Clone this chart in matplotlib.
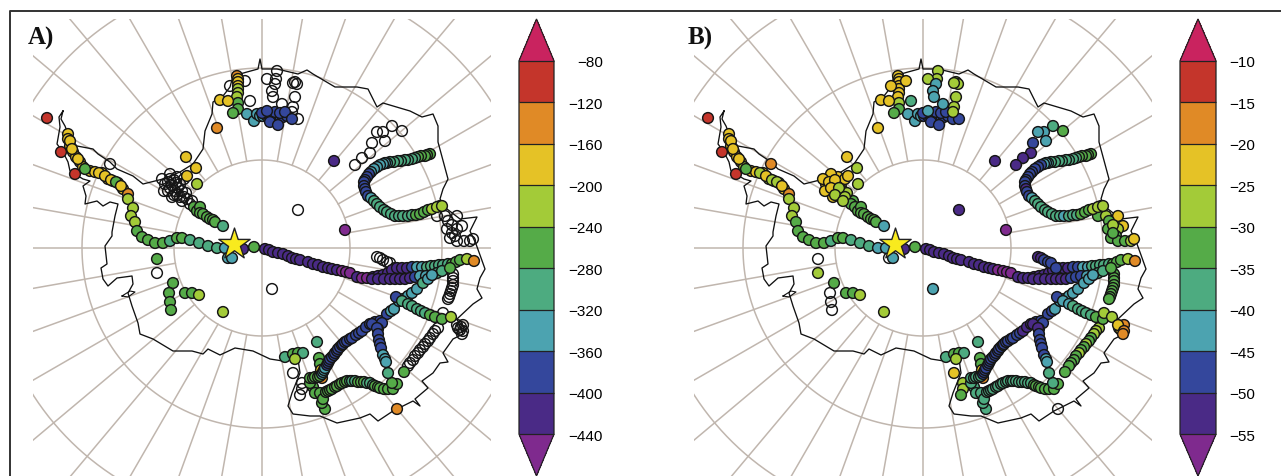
import numpy as np
import matplotlib
matplotlib.use('Agg')
import matplotlib.pyplot as plt
from matplotlib.colors import ListedColormap, BoundaryNorm
from matplotlib.cm import ScalarMappable
from matplotlib.lines import Line2D

W, H = 1281, 477
nan = float('nan')

# ----- data: station position (map units), dD (panel A), d18O (panel B); nan = open circle -----
peninsula = [
    (68,135,-165,-22), (68,140,-170,-21), (70,147,-175,-22), (73,153,-180,-24), (76,158,-175,-23),
    (80,163,-190,-25), (83,168,-195,-26), (90,172,-185,-24), (95,173,-180,-23), (102,174,-190,-25),
    (108,180,-195,-27), (113,182,-205,-28), (118,184,-215,-28), (123,190,-170,-22), (128,195,-150,-19),
    (128,200,-210,-27), (133,209,-225,-28), (131,217,-230,-28), (135,223,-235,-31), (137,232,-250,-32),
    (142,238,-260,-33), (148,241,-262,-34), (155,244,-265,-33), (163,244,-270,-32), (170,242,-305,-38),
    (177,239,-265,-34), (182,239,-262,-35), (190,241,-300,-37), (199,244,-305,-38), (208,247,-310,-40),
    (217,249,-320,-41), (225,249,-330,-42), (228,259,-335,nan), (232,259,-345,-43), (243,250,-405,-52),
    (254,248,-265,-33), (70,142,-170,-23), (72,150,-178,-23), (78,160,-185,-24), (85,170,-260,-31),
    (99,174,-200,-26), (105,177,-190,-25), (111,181,-200,-27), (116,183,-260,-30), (121,187,-190,-24),
]
plateau = [
    (265,250,-410,-52), (269,251,-412,-52), (273,253,-415,-53), (278,254,-420,-53), (283,255,-425,-53),
    (288,257,-430,-53), (292,259,-435,-54), (296,260,-425,-54), (300,261,-420,-53), (308,263,-418,-53),
    (313,265,-420,-53), (318,266,-422,-54), (323,268,-425,-54), (328,269,-428,-54), (332,270,-430,-54),
    (337,271,-440,-56), (342,272,-445,-57), (346,273,-445,-56), (350,274,-445,-56), (357,278,-440,-54),
    (362,279,-442,-54), (367,279,-445,-54), (373,278,-430,-53), (378,277,-420,-52), (383,276,-428,-52),
    (388,274,-435,-53), (392,271,-420,-52), (397,269,-410,-52), (402,269,-408,-52), (407,269,-405,-51),
    (412,268,-395,-50), (417,268,-345,-46), (422,268,-330,-43), (427,268,-320,-41), (431,267,-318,-40),
    (435,267,-315,-40), (439,266,-312,-39), (443,266,-310,-39), (448,265,-290,-36), (452,265,-280,-34),
    (456,263,-265,-32), (460,261,-250,-31), (467,260,-230,-28), (474,262,-150,-18),
    (372,280,-430,-53), (378,280,-425,-53), (384,280,-420,-53), (390,280,-415,-52), (395,280,-415,-52),
    (400,280,-412,-52), (405,280,-410,-51), (410,279,-405,-50), (415,278,-390,-50), (420,277,-360,-46),
    (426,277,-345,-44), (432,276,-335,-43), (437,274,-315,-40), (442,272,-300,-37), (450,269,-275,-33),
    (377,258,nan,-51), (380,259,nan,-51), (383,261,nan,-50), (387,263,nan,-50), (390,264,nan,-50), (395,269,nan,-49),
]
right_stack = [
    (440,207,-240,-27), (437,217,nan,-31), (445,217,nan,-29), (457,217,nan,-23), (448,222,nan,-33),
    (462,227,nan,-24), (447,230,nan,-31), (457,230,nan,-27), (455,237,nan,-32), (450,239,nan,-33),
    (457,242,nan,-32), (464,242,nan,-31), (470,242,nan,-26), (473,240,nan,-24), (452,226,nan,-30), (452,234,nan,-31),
    (453,275,nan,-33), (453,279,nan,-32), (453,282,nan,-32), (453,286,nan,-32), (452,289,nan,-32),
    (451,292,nan,-33), (450,295,nan,-33), (449,298,nan,-33), (448,300,nan,-34),
]
c_track = [
    (430,155,-265,-34), (427,156,-268,-34), (425,157,-270,-33), (421,157,-275,-34), (418,158,-280,-35),
    (415,159,-283,-36), (412,160,-285,-36), (408,161,-288,-36), (405,161,-290,-37), (401,162,-295,-38),
    (398,162,-300,-38), (394,163,-305,-39), (390,163,-310,-39), (387,164,-325,-42), (385,164,-330,-44),
    (383,165,-340,-43), (380,166,-345,-46), (377,168,-350,-47), (374,170,-355,-49), (371,173,-360,-49),
    (369,175,-365,-50), (367,178,-370,-50), (365,181,-378,-50), (364,183,-385,-50), (364,187,-388,-50),
    (365,190,-390,-51), (366,193,-388,-50), (368,197,-380,-47), (371,199,-350,-44), (374,202,-320,-40),
    (377,205,-300,-38), (380,208,-290,-36), (384,211,-290,-38), (387,213,-285,-37), (391,215,-288,-38),
    (395,217,-290,-39), (399,217,-292,-40), (403,217,-295,-42), (408,217,-290,-38), (412,216,-285,-37),
    (416,216,-280,-36), (420,215,-275,-35), (424,213,-262,-33), (428,211,-250,-31), (432,210,-238,-29),
    (437,208,-225,-28), (442,207,-215,-27),
]
open_arc = [
    (402,132,nan,-31), (392,127,nan,-38), (383,133,nan,-42), (377,133,nan,-43), (385,142,nan,-42),
    (372,144,nan,-48), (370,154,nan,-51), (362,159,nan,-52), (355,166,nan,-53),
]
inland = [
    (334,162,-420,-52), (345,231,-445,-56), (298,211,nan,-52), (272,290,nan,-43),
]
filchner = [
    (237,77,-145,-21), (238,80,-185,-22), (238,83,-190,-23), (238,87,-200,-24), (238,90,-205,-25),
    (238,94,-210,-25), (237,98,-215,-24), (238,104,-250,-29), (238,110,-270,-31), (233,114,-275,-32),
    (220,101,-195,-23), (228,102,-200,-24), (245,82,nan,-24), (230,87,nan,-24), (250,102,nan,-37),
    (217,129,-145,-22), (247,115,-330,-43), (254,122,-340,-42), (257,115,-335,-42), (260,117,-345,-42),
    (263,117,-360,-47), (265,115,-375,-48), (267,117,-385,-49), (270,118,-390,-49), (273,117,-390,-50),
    (276,118,-390,-51), (280,117,-395,-50), (283,118,-395,-49), (287,117,-390,-49), (262,114,-385,-49),
    (270,114,-390,-49), (275,113,-390,-50), (280,114,-390,-50), (285,113,-385,-49), (270,123,-385,-49),
    (278,126,-385,-48), (267,112,-385,-45), (292,120,-370,-48), (298,120,nan,-48), (282,105,nan,-42),
    (277,72,nan,-26), (276,80,nan,-29), (267,80,nan,-27), (275,85,nan,-43), (272,92,nan,-42),
    (273,98,nan,-41), (295,83,nan,-27), (297,85,nan,-30), (293,84,nan,-30), (295,98,nan,-28),
    (293,108,nan,-28), (292,113,nan,-30),
]
ronne_mesh = [
    (170,180,nan,-24), (177,178,nan,-23), (165,185,nan,-25), (172,186,nan,-24), (180,185,nan,-25),
    (168,192,nan,-25), (175,192,nan,-27), (182,192,nan,-26), (172,198,nan,-24), (180,198,nan,-28),
    (187,200,nan,-30), (177,196,nan,-26), (192,202,nan,-31), (170,175,nan,-23), (162,180,nan,-24),
    (164,192,nan,-23), (186,194,nan,-28), (176,184,nan,-26), (184,180,nan,-25), (168,183,nan,-24),
    (174,181,nan,-24), (170,189,nan,-25), (178,189,nan,-27), (174,196,nan,-26), (184,198,nan,-29),
    (190,205,nan,-31), (182,202,nan,-30),
]
ronne_track = [
    (194,208,-265,-31), (197,212,-265,-32), (200,208,-270,-33), (200,214,-268,-33), (203,215,-268,-31),
    (207,218,-275,-33), (210,220,-270,-32), (213,221,-272,-33), (215,223,-272,-33), (223,227,-310,-43),
    (186,158,-185,-24), (196,169,-190,-28), (187,177,-195,-24), (197,185,-215,-29),
]
coast_stations = [
    (47,119,-110,-13), (61,153,-105,-12), (75,175,-108,-13), (110,165,nan,-18),
]
west_group = [
    (157,260,-265,nan), (157,274,nan,-27), (173,284,-265,-32), (169,294,-262,nan), (170,303,-268,nan),
    (171,311,-265,nan), (185,294,-270,-32), (192,294,-275,-33), (199,296,-220,-28), (223,313,-225,-27),
]
ross_group = [
    (317,343,-290,-38), (285,358,-305,-38), (293,355,-270,-33), (298,354,-270,-32), (303,354,-310,-39),
    (295,360,-215,-26), (319,359,-265,-33), (320,365,-260,-32), (321,371,-200,-24), (322,379,-140,-17),
    (293,374,nan,-24), (302,384,nan,-27), (302,390,nan,-28), (300,396,nan,-31), (317,394,-290,-37),
    (325,410,-265,-36), (322,404,-270,-37), (313,388,-270,-38), (310,384,-280,-38),
]
east_link = [
    (310,379,-280,-36), (313,379,-275,-37), (315,378,-270,-37), (318,378,-275,-38), (320,377,-280,-38),
    (322,375,-340,-46), (323,373,-350,-46), (324,371,-355,-46), (325,369,-360,-46), (327,366,-362,-47),
    (328,364,-365,-48), (329,362,-368,-48), (330,360,-370,-48), (332,358,-372,-48), (334,356,-375,-48),
    (335,354,-378,-48), (337,352,-380,-49), (338,350,-380,-49), (340,348,-380,-50), (342,346,-382,-50),
    (343,345,-385,-50), (345,343,-385,-50), (347,342,-385,-50), (350,340,-385,-50), (352,339,-385,-50),
    (356,336,-390,-50), (359,334,-392,-50), (362,332,-395,-51), (366,328,-395,-51), (370,325,-395,-51),
    (375,323,-392,-50), (380,322,-390,-49), (387,315,-380,-48), (391,312,-360,-46), (394,310,-345,-44),
    (399,302,-335,-43), (403,300,-332,-42), (408,297,-330,-42), (412,294,-328,-42), (417,290,-325,-41),
    (423,284,-320,-41), (428,280,-322,-42), (432,276,-325,-42),
    (372,325,-395,-51), (382,324,-395,-50), (378,330,-395,-51),
]
south_arc = [
    (315,394,-280,-37), (320,394,-280,-37), (323,400,-275,-37), (326,393,-278,-38), (328,392,-275,-38),
    (330,391,-278,-38), (332,390,-280,-38), (335,388,-278,-38), (337,387,-275,-37), (340,385,-278,-37),
    (342,384,-280,-36), (345,383,-280,-36), (347,382,-280,-36), (350,382,-282,-36), (352,382,-285,-37),
    (355,382,-282,-37), (358,383,-280,-36), (361,383,-280,-36), (364,383,-280,-37), (367,384,-282,-37),
    (370,384,-285,-37), (373,386,-282,-35), (375,387,-280,-34), (378,388,-280,-34), (380,389,-280,-34),
    (384,390,-280,-33), (388,390,-280,-33), (393,390,-265,-32), (397,385,-275,-33), (392,384,-275,-37),
    (388,374,-300,-38),
]
branch_south = [
    (377,329,-385,-51), (378,335,-385,-50), (379,341,-385,-49), (380,345,-378,-49), (381,349,-370,-49),
    (383,356,-345,-46), (385,360,-340,-45), (386,363,-335,-44),
]
branch_east = [
    (396,298,-385,-49), (402,302,-300,-42), (408,305,-290,-41), (412,307,-288,-40), (417,310,-285,-40),
    (421,312,-285,-39), (425,314,-285,-38), (430,316,-278,-36), (435,318,-270,-33), (442,320,-265,-32),
    (443,314,nan,-29), (451,318,-225,-28),
]
long_track = [
    (438,329,nan,-28), (435,332,nan,-30), (433,335,nan,-30), (430,339,nan,-32), (428,342,nan,-31),
    (425,345,nan,-30), (423,348,nan,-32), (420,351,nan,-31), (418,354,nan,-30), (415,357,nan,-32),
    (413,361,nan,-31), (410,364,nan,-33), (408,367,nan,-32), (404,373,-270,-33),
]
far_east = [
    (458,329,nan,-21), (461,328,nan,-20), (463,326,nan,-19), (460,331,nan,-21), (457,326,nan,-24),
    (463,332,nan,-20), (462,335,nan,-19), (397,410,-145,nan),
]
tracks = [right_stack, open_arc, ronne_mesh, long_track, peninsula, c_track, plateau, inland, filchner,
          ronne_track, coast_stations, west_group, ross_group, south_arc, east_link, branch_south,
          branch_east, far_east]

coast_x = [63,59,60,57,63,68,70,83,90,83,86,85,97,103,110,118,115,112,112,105,107,101,103,108,117,132,133,128,132,138,140,
           153,173,192,203,208,220,235,253,270,283,298,300,292,288,293,310,320,337,360,370,378,393,413,420,415,428,422,433,
           440,448,443,453,463,457,473,482,477,480,485,480,476,470,477,460,447,440,443,448,438,438,433,422,410,383,377,368,
           357,335,313,307,298,277,262,260,258,247,233,230,223,213,212,205,203,193,180,163,143,133,117,110,98,93,77,70,65,61,63]
coast_y = [112,118,128,145,153,163,172,180,182,187,197,205,202,207,203,205,217,233,237,247,265,269,280,287,279,277,285,294,307,324,335,
           340,352,352,355,350,356,349,352,360,362,360,374,394,407,415,417,417,424,419,415,422,412,402,407,400,389,382,374,
           364,363,354,340,335,320,305,299,290,279,270,256,245,232,218,220,210,200,190,180,143,127,115,118,112,104,108,90,
           88,88,75,71,75,70,70,60,70,73,77,88,97,103,115,132,150,165,173,180,185,177,170,163,155,150,147,140,127,120,112]
island_x = [122,130,135,128,122]
island_y = [297,292,293,298,297]

levels_a = [-440,-400,-360,-320,-280,-240,-200,-160,-120,-80]
levels_b = [-55,-50,-45,-40,-35,-30,-25,-20,-15,-10]
band_colors = ['#4a2a86','#34479c','#4ca3b0','#4dab80','#55ab48','#a3cb38','#e5c226','#e08a26','#c4352b']
under_color, over_color = '#7f2a8e', '#c9235f'

cmap = ListedColormap(band_colors)
cmap.set_under(under_color)
cmap.set_over(over_color)

stations = np.array([row for track in tracks for row in track], dtype=float)


def px_box(x0, y0, x1, y1):
    return [x0 / W, 1 - y1 / H, (x1 - x0) / W, (y1 - y0) / H]


def draw_map(box, vals, levels):
    ax = fig.add_axes(box)
    ax.set_xlim(33, 491)
    ax.set_ylim(477, 20)
    ax.axis('off')
    # graticule
    cx, cy = 262, 249
    t = np.linspace(0, 2 * np.pi, 400)
    for r in [88, 180, 272]:
        ax.plot(cx + r * np.cos(t), cy + r * np.sin(t), color='#c0b6ae', lw=1.1, zorder=1)
    for deg in range(0, 360, 10):
        r0 = 0 if deg % 90 == 0 else 88
        a = np.deg2rad(deg)
        ax.plot([cx + r0 * np.cos(a), cx + 500 * np.cos(a)], [cy + r0 * np.sin(a), cy + 500 * np.sin(a)],
                color='#c0b6ae', lw=1.1, zorder=1)
    ax.plot(coast_x, coast_y, color='#111111', lw=0.95, zorder=2)
    ax.plot(island_x, island_y, color='#111111', lw=0.8, zorder=2)
    norm = BoundaryNorm(levels, cmap.N)
    empty = np.isnan(vals)
    ax.scatter(stations[empty, 0], stations[empty, 1], s=60, facecolors='none', edgecolors='#161616',
               linewidths=1.05, zorder=3)
    ax.scatter(stations[~empty, 0], stations[~empty, 1], c=vals[~empty], cmap=cmap, norm=norm, s=60,
               edgecolors='#161616', linewidths=1.05, zorder=4)
    ax.scatter([234], [245], marker='*', s=560, color='#f8ea1e', edgecolors='#222222', linewidths=1.0, zorder=5)
    return norm


def draw_bar(box, norm, levels, right_px):
    cax = fig.add_axes(box)
    cb = fig.colorbar(ScalarMappable(norm=norm, cmap=cmap), cax=cax, extend='both', extendfrac=0.112,
                      drawedges=True, spacing='uniform')
    cb.outline.set_edgecolor('#222222')
    cb.outline.set_linewidth(0.9)
    cb.dividers.set_color('#222222')
    cb.dividers.set_linewidth(0.9)
    cb.set_ticks(levels)
    cb.set_ticklabels(['\u2212%d' % abs(v) for v in levels])
    pad = (right_px - box[0] * W - box[2] * W) * 72 / 100
    cax.tick_params(length=0, pad=pad, labelsize=11)
    for lab in cax.get_yticklabels():
        lab.set_ha('right')
        lab.set_fontfamily(['Liberation Sans', 'DejaVu Sans'])


fig = plt.figure(figsize=(W / 100, H / 100), dpi=100)

norm_a = draw_map(px_box(33, 20, 491, 477), stations[:, 2], levels_a)
norm_b = draw_map(px_box(694, 20, 1152, 477), stations[:, 3], levels_b)
draw_bar(px_box(519, 20, 554, 477), norm_a, levels_a, 603)
draw_bar(px_box(1180, 20, 1216, 477), norm_b, levels_b, 1255)

# frame round the whole figure
fig.add_artist(Line2D([10 / W, 10 / W, 1], [0, 1 - 12 / H, 1 - 12 / H], color='#333333', lw=1.4))

fig.text(28 / W, 1 - 38 / H, 'A)', family='Liberation Serif', weight='bold', fontsize=18, va='center', color='#111111')
fig.text(688 / W, 1 - 38 / H, 'B)', family='Liberation Serif', weight='bold', fontsize=18, va='center', color='#111111')

fig.savefig('out.png', dpi=100)
